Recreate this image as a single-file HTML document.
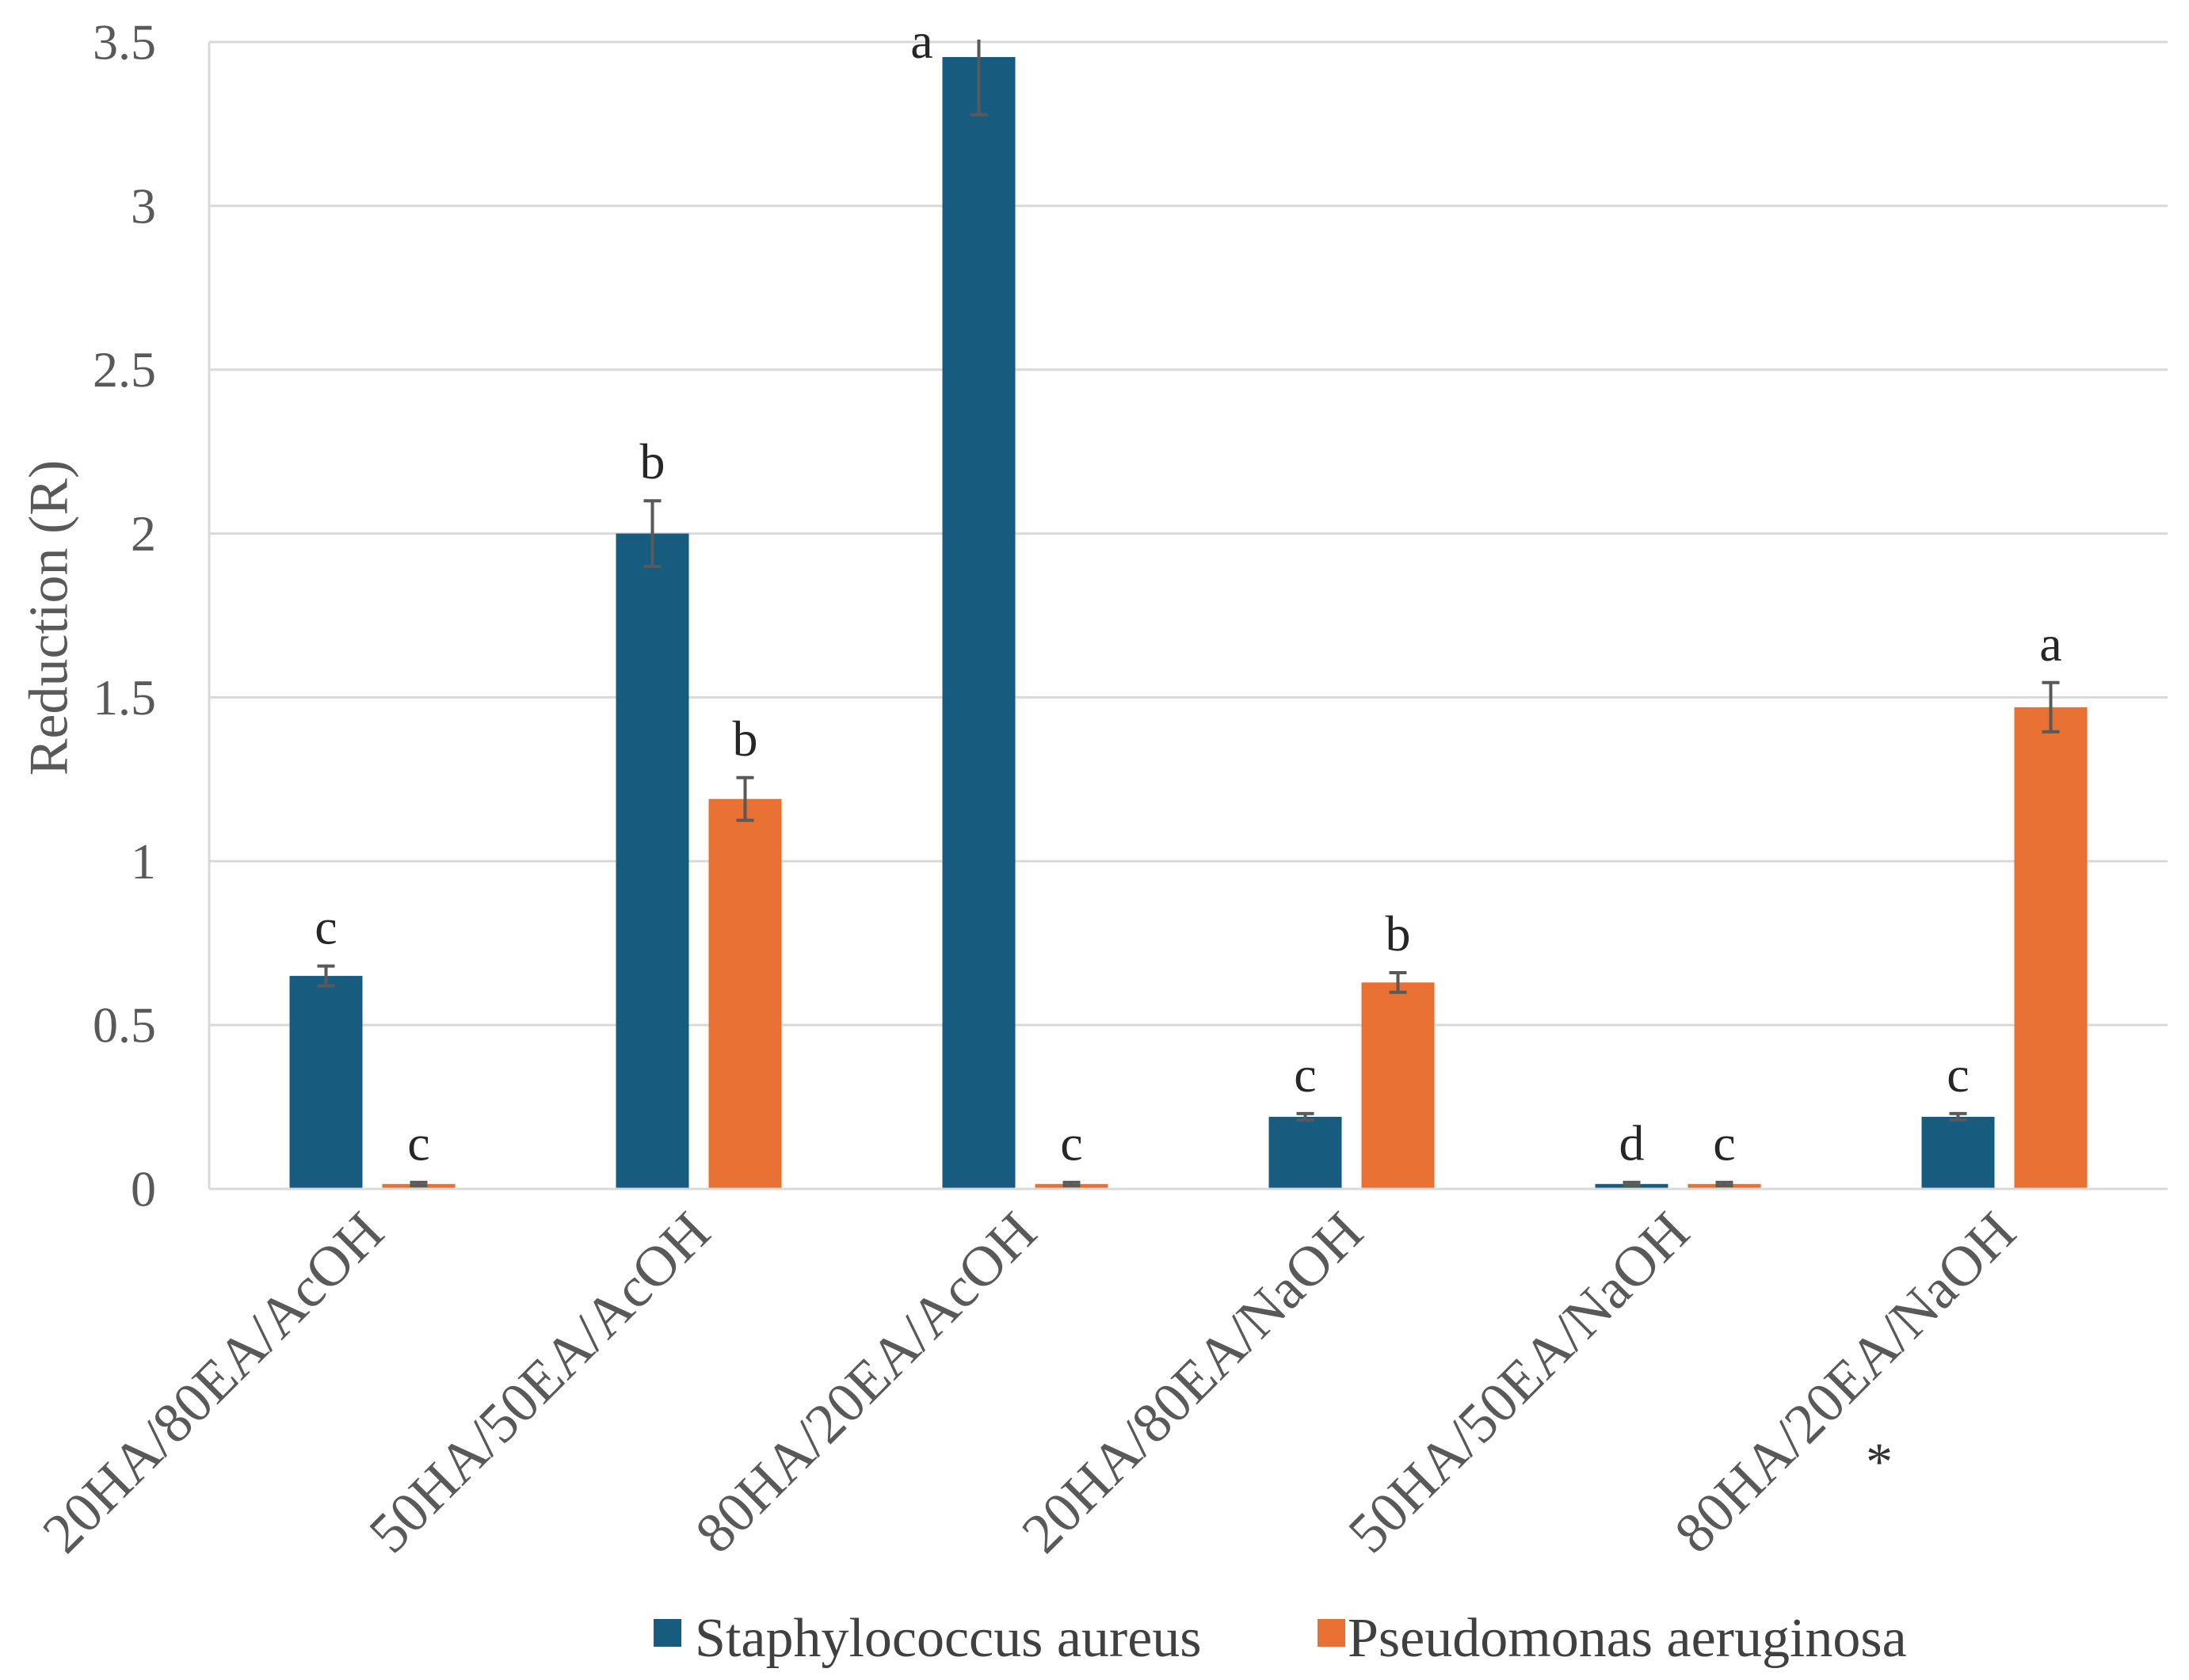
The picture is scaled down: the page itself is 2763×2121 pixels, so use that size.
<!DOCTYPE html>
<html><head><meta charset="utf-8"><style>
html,body{margin:0;padding:0;background:#fff;}
svg{display:block;}
text{font-family:"Liberation Serif",serif;}
</style></head><body>
<svg id="chart" width="2763" height="2121" viewBox="0 0 2763 2121" xmlns="http://www.w3.org/2000/svg">
<g id="grid"></g>
<g id="bars"></g>
<g id="axes"></g>
<text x="62" y="780" transform="rotate(-90 62 780)" text-anchor="middle" dominant-baseline="central" font-size="70" fill="#595959">Reduction (R)</text>
<g>
<rect x="825" y="2044" width="35" height="35" fill="#175C7E"/>
<text x="877" y="2091" font-size="70" fill="#404040">Staphylococcus aureus</text>
<rect x="1663" y="2044" width="35" height="35" fill="#E87032"/>
<text x="1701" y="2091" font-size="70" fill="#404040">Pseudomonas aeruginosa</text>
</g>
<text x="2372" y="1868" font-size="68" fill="#333" text-anchor="middle">*</text>
</svg>
<script>
const categories = ["20HA/80EA/AcOH","50HA/50EA/AcOH","80HA/20EA/AcOH","20HA/80EA/NaOH","50HA/50EA/NaOH","80HA/20EA/NaOH"];
const saValues = [0.65, 2.0, 3.454, 0.22, 0.015, 0.22];
const saErrors = [0.03, 0.1, 0.176, 0.01, 0.005, 0.01];
const saLetters = ["c","b","a","c","d","c"];
const paValues = [0.015, 1.19, 0.015, 0.63, 0.015, 1.47];
const paErrors = [0.005, 0.065, 0.005, 0.03, 0.005, 0.075];
const paLetters = ["c","b","c","b","c","a"];
const yTicks = [0, 0.5, 1, 1.5, 2, 2.5, 3, 3.5];
const yTickLabels = ["0","0.5","1","1.5","2","2.5","3","3.5"];

const NS = "http://www.w3.org/2000/svg";
const L = 264, R = 2736, T = 53, B = 1501, YMAX = 3.5;
const y = v => B - (v / YMAX) * (B - T);
const gw = (R - L) / categories.length;
const xc = i => L + gw * (i + 0.5);
const BW = 92, OFF = 58.5;
function mk(tag, attrs, parent) {
  const e = document.createElementNS(NS, tag);
  for (const k in attrs) e.setAttribute(k, attrs[k]);
  parent.appendChild(e);
  return e;
}
const grid = document.getElementById('grid');
const bars = document.getElementById('bars');
const axes = document.getElementById('axes');
yTicks.forEach((t, i) => {
  if (t > 0) {
    const g = mk('line', {x1: L, x2: R, y1: y(t), y2: y(t), stroke: '#d9d9d9', 'stroke-width': 3}, grid);
    
    
  }
  const tl = mk('text', {x: 197, y: y(t), 'text-anchor': 'end', 'dominant-baseline': 'central', 'font-size': 64, fill: '#595959'}, axes);
  tl.textContent = yTickLabels[i];
  
  
});
const ya = mk('line', {x1: L, x2: L, y1: T, y2: B, stroke: '#d9d9d9', 'stroke-width': 3}, axes);


const xa = mk('line', {x1: L, x2: R, y1: B, y2: B, stroke: '#d9d9d9', 'stroke-width': 3}, axes);



function drawSeries(vals, errs, letters, color, dx, name) {
  vals.forEach((v, i) => {
    const cx = xc(i) + dx;
    const r = mk('rect', {x: cx - BW / 2, y: y(v), width: BW, height: B - y(v), fill: color}, bars);
    
    
    const top = Math.max(T - 3, y(v + errs[i])), bot = y(v - errs[i]);
    const e = mk('path', {d: `M${cx} ${top}V${bot}M${cx-11} ${bot}H${cx+11}` + (y(v + errs[i]) >= T ? `M${cx-11} ${top}H${cx+11}` : ''), stroke: '#595959', 'stroke-width': 4, fill: 'none'}, bars);
    
    
    const clipped = y(v + errs[i]) < T + 20;
    const lt = mk('text', {x: clipped ? cx - 72 : cx, y: clipped ? T + 20 : top - 28, 'text-anchor': 'middle', 'font-size': 64, fill: '#262626'}, bars);
    lt.textContent = letters[i];
    
    
  });
}
drawSeries(saValues, saErrors, saLetters, '#175C7E', -OFF, 'staphylococcus');
drawSeries(paValues, paErrors, paLetters, '#E87032', OFF, 'pseudomonas');

categories.forEach((c, i) => {
  const ax = xc(i) + 18, ay = 1560;
  const t = mk('text', {x: ax, y: ay, 'text-anchor': 'end', 'font-size': 72, fill: '#595959', transform: `rotate(-45 ${ax} ${ay})`}, axes);
  t.textContent = c;
  
  
});
</script>
</body></html>
